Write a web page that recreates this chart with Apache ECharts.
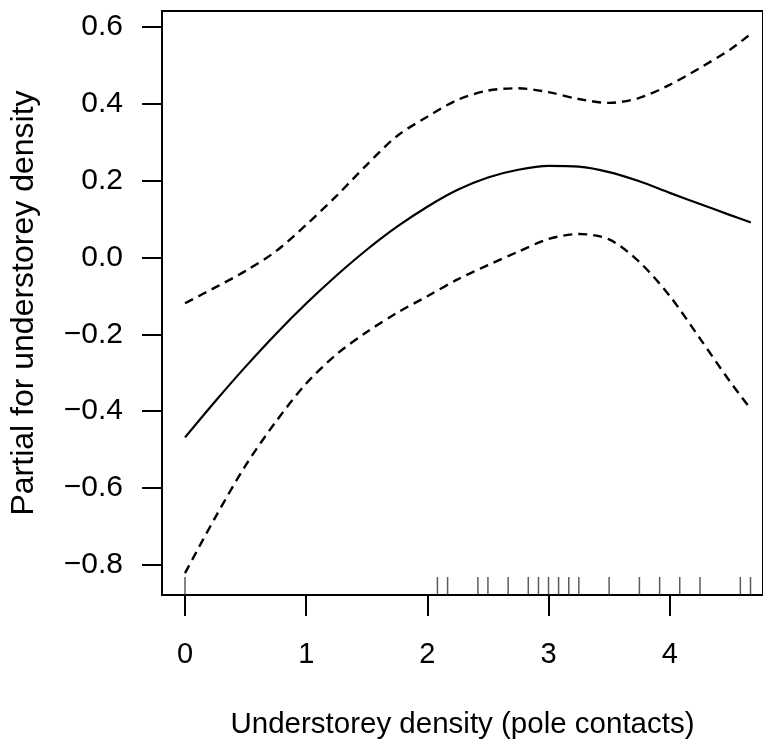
<!DOCTYPE html>
<html>
<head>
<meta charset="utf-8">
<script src="https://cdn.jsdelivr.net/npm/echarts@6/dist/echarts.min.js"></script>
<style>
  html, body { margin: 0; padding: 0; background: #fff; }
  #chart { width: 763px; height: 745px; }
</style>
</head>
<body>
<div id="chart"></div>
<script>
// understorey density (pole contacts)
var xs = [0, 0.25, 0.5, 0.75, 1, 1.25, 1.5, 1.75, 2, 2.25, 2.5, 2.75, 3, 3.25, 3.5, 3.75, 4, 4.25, 4.5, 4.67];
// partial effect and confidence band
var fit   = [-0.468, -0.374, -0.284, -0.199, -0.120, -0.047, 0.020, 0.080, 0.132, 0.176, 0.208, 0.228, 0.238, 0.236, 0.222, 0.198, 0.168, 0.139, 0.110, 0.091];
var upper = [-0.119, -0.078, -0.035, 0.016, 0.085, 0.160, 0.241, 0.316, 0.366, 0.410, 0.434, 0.440, 0.430, 0.412, 0.402, 0.415, 0.449, 0.493, 0.541, 0.582];
var lower = [-0.821, -0.676, -0.541, -0.427, -0.328, -0.252, -0.194, -0.144, -0.101, -0.057, -0.020, 0.015, 0.048, 0.061, 0.047, -0.012, -0.100, -0.211, -0.324, -0.395];
// observed values (rug)
var rug = [0, 2.083, 2.167, 2.417, 2.5, 2.667, 2.833, 2.917, 3, 3.083, 3.167, 3.25, 3.5, 3.75, 3.917, 4.083, 4.25, 4.583, 4.667];

var xTicks = [0, 1, 2, 3, 4];
var yTicks = [-0.8, -0.6, -0.4, -0.2, 0, 0.2, 0.4, 0.6];

var xMin = -0.19, xMax = 4.77;
var yMin = -0.878, yMax = 0.641;

function pairs(ys) {
    return xs.map(function (x, i) { return [x, ys[i]]; });
}

var font = "'Liberation Sans', Arial, sans-serif";

var chart = echarts.init(document.getElementById('chart'));
var option = {
    animation: false,
    backgroundColor: '#fff',
    grid: {
        left: 161,
        top: 11,
        right: -2,
        bottom: 148,
        show: true,
        borderColor: '#000',
        borderWidth: 2
    },
    xAxis: {
        type: 'value',
        min: xMin,
        max: xMax,
        name: 'Understorey density (pole contacts)',
        nameLocation: 'middle',
        nameGap: 115,
        nameTextStyle: { fontFamily: font, fontSize: 29.5, color: '#000' },
        axisLine: { show: false, onZero: false },
        axisTick: {
            show: true,
            length: 21,
            customValues: xTicks,
            lineStyle: { color: '#000', width: 2 }
        },
        axisLabel: {
            customValues: xTicks,
            margin: 45,
            fontFamily: font,
            fontSize: 29,
            color: '#000'
        },
        splitLine: { show: false }
    },
    yAxis: {
        type: 'value',
        min: yMin,
        max: yMax,
        name: 'Partial for understorey density',
        nameLocation: 'middle',
        nameRotate: 90,
        nameGap: 122,
        nameTextStyle: { fontFamily: font, fontSize: 32, color: '#000' },
        axisLine: { show: false, onZero: false },
        axisTick: {
            show: true,
            length: 20,
            customValues: yTicks,
            lineStyle: { color: '#000', width: 2 }
        },
        axisLabel: {
            customValues: yTicks,
            margin: 39,
            fontFamily: font,
            fontSize: 30,
            color: '#000',
            formatter: function (v) { return v.toFixed(1).replace('-', '\u2212'); }
        },
        splitLine: { show: false }
    },
    series: [
        {
            type: 'line',
            data: pairs(fit),
            smooth: 0.3,
            symbol: 'none',
            lineStyle: { color: '#000', width: 2.2 }
        },
        {
            type: 'line',
            data: pairs(upper),
            smooth: 0.3,
            symbol: 'none',
            lineStyle: { color: '#000', width: 2.4, type: [9, 6] }
        },
        {
            type: 'line',
            data: pairs(lower),
            smooth: 0.3,
            symbol: 'none',
            lineStyle: { color: '#000', width: 2.4, type: [9, 6] }
        },
        {
            type: 'scatter',
            data: rug.map(function (x) { return [x, yMin]; }),
            symbol: 'rect',
            symbolSize: [1.5, 18],
            symbolOffset: [0, -9],
            itemStyle: { color: '#333' },
            silent: true
        }
    ]
};
chart.setOption(option);
</script>
</body>
</html>
